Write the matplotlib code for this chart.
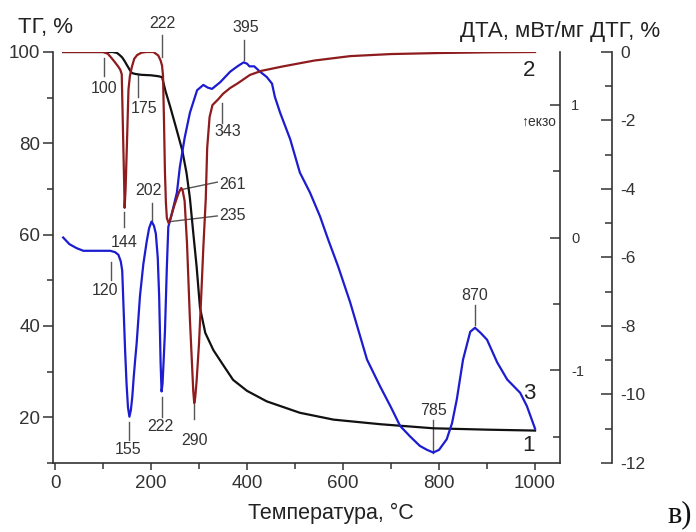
import matplotlib
matplotlib.use("Agg")
import matplotlib.pyplot as plt
from matplotlib.ticker import MultipleLocator, FixedLocator

plt.rcParams['font.family'] = ['Liberation Sans', 'DejaVu Sans']
plt.rcParams['axes.unicode_minus'] = False

# ---------------- data ----------------
tg_temp = [17, 60, 100, 120, 129, 135, 140, 145, 150, 155, 160, 167, 180, 200, 215, 223,
           230, 240, 252, 265, 274, 281, 288, 295, 302, 313, 330, 350, 371, 400, 441, 510,
           580, 677, 788, 900, 1000]
tg = [100, 100, 100, 100, 99.8, 99.3, 98.8, 98.0, 97.1, 96.2, 95.4, 95.2, 95.0, 94.9, 94.7, 94.5,
      91.5, 88.0, 83.5, 78.5, 73.5, 68.0, 60.4, 53.0, 44.0, 38.5, 34.7, 31.5, 28.2, 25.8, 23.5, 21.0,
      19.5, 18.5, 17.6, 17.3, 17.1]

dtg_temp = [17, 60, 100, 110, 121, 132, 136, 139, 142, 144, 145, 147, 150, 153, 156, 160, 165, 171,
            180, 190, 205, 215, 220, 223, 225, 227, 229, 231, 233, 237, 241, 247, 253, 258, 263, 266,
            270, 275, 281, 285, 288, 290, 292, 295, 300, 305, 309, 314, 317, 322, 328, 340, 350, 365,
            380, 406, 430, 475, 540, 615, 700, 800, 900, 1000]
dtg = [0, 0, 0, -0.05, -0.23, -0.43, -0.52, -0.65, -2.57, -3.8, -4.55, -4.0, -2.6, -1.1, -0.7, -0.44,
       -0.2, -0.09, -0.02, 0, 0, -0.1, -0.25, -0.4, -0.7, -2.0, -3.5, -4.4, -4.85, -5.0, -4.85, -4.55,
       -4.3, -4.1, -3.97, -4.05, -4.35, -5.6, -7.8, -9.0, -9.9, -10.25, -10.1, -9.6, -8.5, -7.0, -5.7,
       -4.3, -2.8, -1.9, -1.55, -1.38, -1.22, -1.05, -0.92, -0.67, -0.55, -0.42, -0.25, -0.12, -0.06,
       -0.03, -0.01, 0]

dta_temp = [17, 30, 45, 59, 94, 115, 125, 132, 137, 140, 142, 144, 146, 149, 152, 155, 158, 161, 164,
            167, 170, 177, 184, 191, 196, 201, 206, 210, 214, 217, 220, 222, 224, 226, 229, 233, 236,
            244, 254, 260, 270, 281, 296, 309, 318, 327, 344, 365, 380, 393, 400, 405, 415, 427, 441,
            452, 458, 469, 490, 510, 531, 552, 569, 590, 615, 650, 677, 700, 719, 740, 760, 775, 788,
            800, 816, 827, 837, 850, 865, 875, 887, 900, 921, 942, 969, 983, 1000]
dta = [0.0, -0.05, -0.08, -0.1, -0.1, -0.1, -0.11, -0.13, -0.18, -0.25, -0.45, -0.65, -0.85, -1.1,
       -1.28, -1.35, -1.3, -1.2, -1.05, -0.92, -0.8, -0.44, -0.2, -0.03, 0.07, 0.12, 0.09, 0.03, -0.15,
       -0.45, -0.95, -1.16, -1.1, -0.95, -0.71, -0.22, 0.08, 0.19, 0.34, 0.53, 0.75, 0.94, 1.11, 1.15,
       1.13, 1.12, 1.17, 1.25, 1.29, 1.32, 1.31, 1.29, 1.29, 1.25, 1.21, 1.16, 1.06, 0.94, 0.74, 0.49,
       0.34, 0.16, -0.015, -0.22, -0.49, -0.92, -1.12, -1.28, -1.42, -1.5, -1.57, -1.6, -1.62, -1.6,
       -1.52, -1.4, -1.22, -0.92, -0.71, -0.68, -0.72, -0.77, -0.94, -1.07, -1.17, -1.27, -1.44]

x_ticks = [0, 200, 400, 600, 800, 1000]
tg_ticks = [20, 40, 60, 80, 100]
dta_ticks = [-1, 0, 1]
dtg_ticks = [0, -2, -4, -6, -8, -10, -12]

# peak labels: text, text position (temp, TG-axis value), leader line (x0, y0, x1, y1)
peak_labels = ["100", "175", "222", "395", "343", "144", "202", "120", "155", "222", "290",
               "870", "785", "261", "235"]
label_pos = [(102, 92.1), (185, 87.7), (223, 106.2), (398, 105.3), (360, 82.7), (144, 58.2),
             (194, 69.6), (104, 47.7), (152, 12.9), (219, 17.9), (290, 15.0), (875, 46.6),
             (788, 21.6), (369, 70.9), (369, 64.1)]
leader = [(102, 98.7, 102, 94.7), (173, 95.0, 173, 90.1), (223, 103.7, 223, 98.9),
          (394, 102.6, 394, 98.2), (348, 88.8, 348, 84.5), (144, 65.0, 144, 61.6),
          (202, 67.0, 202, 62.6), (117, 54.0, 117, 50.1), (154, 19.0, 154, 15.0),
          (223, 24.4, 223, 20.1), (290, 24.1, 290, 19.7), (875, 44.6, 875, 40.2),
          (788, 19.4, 788, 12.2), (260, 69.8, 338, 71.5), (235, 62.8, 338, 64.1)]
curve_ids = ["1", "2", "3"]
curve_id_pos = [(1000, 13.9), (1000, 96.0), (1000, 25.3)]

# ---------------- figure ----------------
W, H = 696, 532
fig = plt.figure(figsize=(W / 100, H / 100), dpi=100)
ax = fig.add_axes([53 / W, 69 / H, (560 - 53) / W, (463 - 52) / H])
ax2 = ax.twinx()
ax3 = ax.twinx()

black = "#111111"
maroon = "#8E1B1E"
blue = "#1C1CD0"
txt = "#333333"
grey = "#555555"

ax.plot(tg_temp, tg, color=black, lw=1.6, zorder=3)
ax3.plot(dtg_temp, dtg, color=maroon, lw=1.6, zorder=3)
ax2.plot(dta_temp, dta, color=blue, lw=1.6, zorder=3)

ax.set_xlim(-4.2, 1052)
ax.set_ylim(10, 100)
ax2.set_ylim(-1.699, 1.398)
ax3.set_ylim(-12, 0)

# spines
ax.spines['top'].set_visible(False)
ax.spines['right'].set_visible(False)
for s in ['top', 'left', 'bottom']:
    ax2.spines[s].set_visible(False)
    ax3.spines[s].set_visible(False)
ax3.spines['right'].set_position(('outward', 52 * 0.72))
for a in (ax, ax2, ax3):
    for s in a.spines.values():
        s.set_color("#333333")
        s.set_linewidth(1.2)

# ticks
ax.xaxis.set_major_locator(FixedLocator(x_ticks))
ax.xaxis.set_minor_locator(MultipleLocator(100))
ax.yaxis.set_major_locator(FixedLocator(tg_ticks))
ax.yaxis.set_minor_locator(MultipleLocator(10))
ax.tick_params(axis='y', which='major', direction='out', length=7, width=1.1,
               labelsize=13.5, pad=2, colors="#333333")
ax.tick_params(axis='y', which='minor', direction='out', length=4, width=1.1, colors="#333333")
ax.tick_params(axis='x', which='major', direction='out', length=5, width=1.1,
               labelsize=13.5, pad=4, colors="#333333")
ax.tick_params(axis='x', which='minor', direction='out', length=4, width=1.1, colors="#333333")

ax2.yaxis.set_major_locator(FixedLocator(dta_ticks))
ax2.yaxis.set_minor_locator(FixedLocator([-1.5, -0.5, 0.5]))
ax2.tick_params(axis='y', which='major', direction='in', length=7, width=1.1,
                labelsize=10.5, pad=8, colors="#333333")
ax2.tick_params(axis='y', which='minor', direction='in', length=5, width=1.1, colors="#333333")

ax3.yaxis.set_major_locator(FixedLocator(dtg_ticks))
ax3.yaxis.set_minor_locator(MultipleLocator(1))
ax3.tick_params(axis='y', which='major', direction='in', length=8, width=1.1,
                labelsize=12.5, pad=6, colors="#333333")
ax3.tick_params(axis='y', which='minor', direction='in', length=5, width=1.1, colors="#333333")

# peak annotations
for t, (tx, ty), (x0, y0, x1, y1) in zip(peak_labels, label_pos, leader):
    ax.plot([x0, x1], [y0, y1], color=grey, lw=1.0, clip_on=False, zorder=2)
    ax.text(tx, ty, t, ha='center', va='center', fontsize=11.5, color=txt, clip_on=False)

for t, (tx, ty) in zip(curve_ids, curve_id_pos):
    ax.text(tx, ty, t, ha='right', va='center', fontsize=16, color="#222222")

ax.text(1044, 84.7, "↑екзо", ha='right', va='center', fontsize=10, color=txt)

# axis titles
fig.text(46 / W, 1 - 28 / H, "ТГ, %", ha='center', va='center', fontsize=16, color="#222222")
fig.text(560 / W, 1 - 32 / H, "ДТА, мВт/мг ДТГ, %", ha='center', va='center', fontsize=16,
         color="#222222")
fig.text(331 / W, 1 - 513 / H, "Температура, °C", ha='center', va='center', fontsize=15.5,
         color="#222222")
fig.text(680 / W, 1 - 515 / H, "в)", ha='center', va='center', fontsize=22,
         family=['Liberation Serif', 'DejaVu Serif'], color="#111111")

fig.savefig("out.png", dpi=100)
